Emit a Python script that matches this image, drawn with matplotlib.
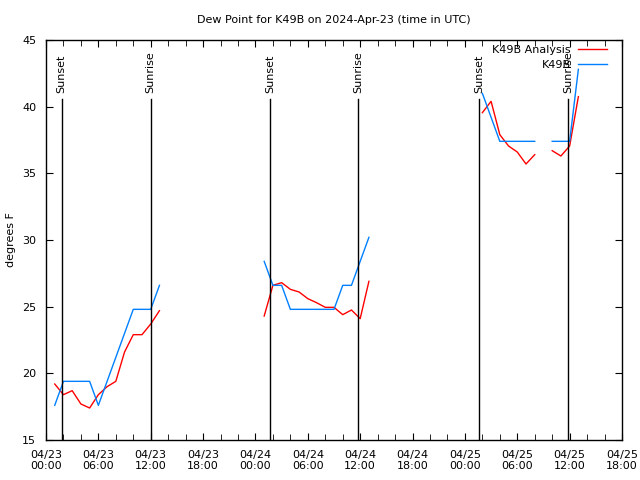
import matplotlib
matplotlib.use('Agg')
import matplotlib.pyplot as plt
import numpy as np

# hours since 04/23 00:00 UTC
seg1_hours = [1, 2, 3, 4, 5, 6, 7, 8, 9, 10, 11, 12, 13]
seg1_analysis = [19.2, 18.4, 18.7, 17.7, 17.4, 18.4, 19.0, 19.4, 21.6, 22.9, 22.9, 23.7, 24.7]
seg1_obs = [17.6, 19.4, 19.4, 19.4, 19.4, 17.6, 19.4, 21.2, 23.0, 24.8, 24.8, 24.8, 26.6]

seg2_hours = [25, 26, 27, 28, 29, 30, 31, 32, 33, 34, 35, 36, 37]
seg2_analysis = [24.3, 26.6, 26.8, 26.3, 26.1, 25.6, 25.3, 24.95, 24.95, 24.4, 24.75, 24.1, 26.9]
seg2_obs = [28.4, 26.6, 26.6, 24.8, 24.8, 24.8, 24.8, 24.8, 24.8, 26.6, 26.6, 28.4, 30.2]

seg3_hours = [50, 51, 52, 53, 54, 55, 56, 57, 58, 59, 60, 61]
seg3_analysis = [39.55, 40.4, 37.9, 37.05, 36.6, 35.7, 36.4, np.nan, 36.7, 36.3, 37.05, 40.75]
seg3_obs = [41.0, 39.2, 37.4, 37.4, 37.4, 37.4, 37.4, np.nan, 37.4, 37.4, 37.4, 42.8]

sunset_hours = [1.8, 25.7, 49.65]
sunrise_hours = [12.0, 35.8, 59.85]

tick_hours = [0, 6, 12, 18, 24, 30, 36, 42, 48, 54, 60, 66]
tick_labels = ['04/23\n00:00', '04/23\n06:00', '04/23\n12:00', '04/23\n18:00',
               '04/24\n00:00', '04/24\n06:00', '04/24\n12:00', '04/24\n18:00',
               '04/25\n00:00', '04/25\n06:00', '04/25\n12:00', '04/25\n18:00']

plt.rcParams['font.family'] = ['DejaVu Sans']
plt.rcParams['font.size'] = 8

fig = plt.figure(figsize=(6.4, 4.8), dpi=100)
ax = fig.add_axes([46 / 640, 40 / 480, 576 / 640, 400 / 480])

red = '#ff0000'
blue = '#0080ff'

hours = [seg1_hours, seg2_hours, seg3_hours]
analysis = [seg1_analysis, seg2_analysis, seg3_analysis]
obs = [seg1_obs, seg2_obs, seg3_obs]
for i in range(3):
	ax.plot(hours[i], analysis[i], color=red, lw=1,
		label='K49B Analysis' if i == 0 else None)
	ax.plot(hours[i], obs[i], color=blue, lw=1,
		label='K49B' if i == 0 else None)

for h in sunset_hours:
	ax.plot([h, h], [15, 40.6], color='black', lw=1)
	ax.text(h, 41.0, 'Sunset', rotation=90, ha='center', va='bottom')
for h in sunrise_hours:
	ax.plot([h, h], [15, 40.6], color='black', lw=1)
	ax.text(h, 41.0, 'Sunrise', rotation=90, ha='center', va='bottom')

ax.set_xlim(0, 66)
ax.set_ylim(15, 45)
ax.set_xticks(tick_hours)
ax.set_xticklabels(tick_labels)
ax.set_xticks(np.arange(0, 67, 2), minor=True)
ax.set_yticks([15, 20, 25, 30, 35, 40, 45])
ax.tick_params(which='both', direction='in', top=True, right=True, color='black')
ax.tick_params(which='major', length=5, pad=7)
ax.tick_params(which='minor', length=4)
for s in ax.spines.values():
	s.set_linewidth(1)

fig.text(11 / 640, 1 - 240 / 480, 'degrees F', rotation=90, ha='center', va='center')
fig.text(334 / 640, 1 - 20 / 480, 'Dew Point for K49B on 2024-Apr-23 (time in UTC)',
	ha='center', va='center')

ax.legend(loc='upper right', bbox_to_anchor=(0.982, 0.998), markerfirst=False,
	frameon=False, handlelength=2.6, labelspacing=0.45, borderaxespad=0,
	handletextpad=0.7)

fig.savefig('out.png', dpi=100)
